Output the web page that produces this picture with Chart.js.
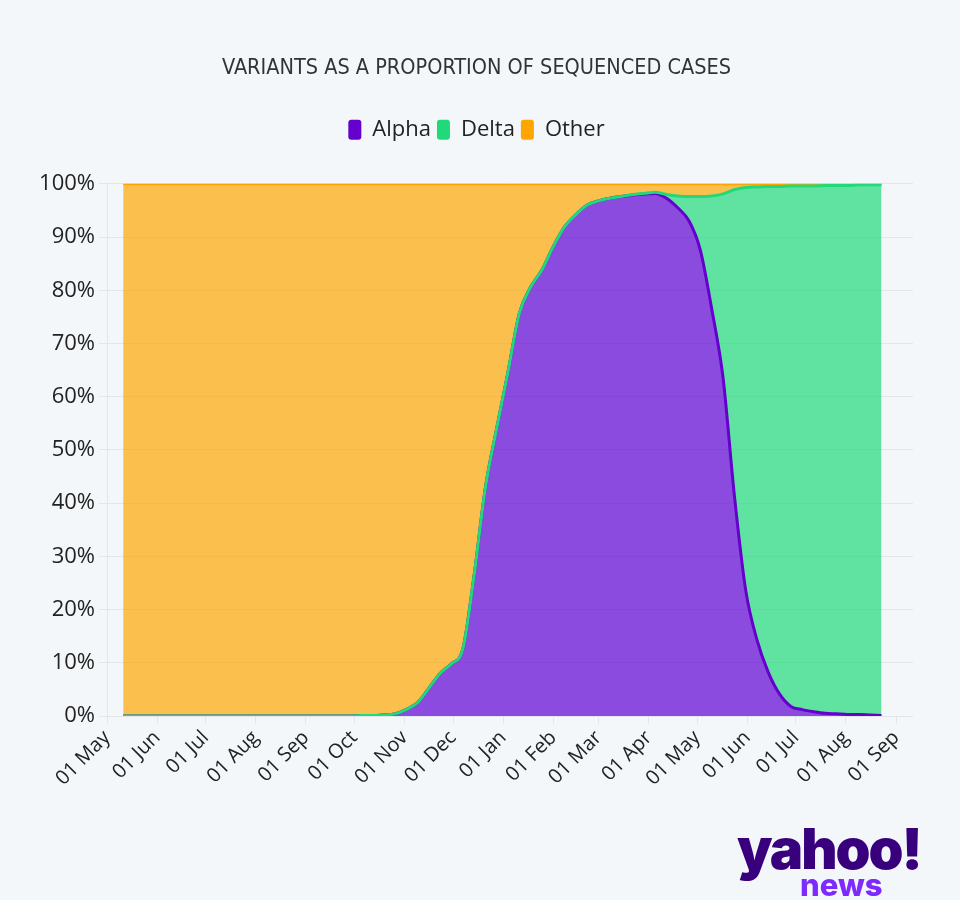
<!DOCTYPE html>
<html>
<head>
<meta charset="utf-8">
<script src="https://cdn.jsdelivr.net/npm/chart.js@4.4.1/dist/chart.umd.min.js"></script>
<style>
  html, body { margin: 0; padding: 0; background: #F3F7FA; }
  #wrap { position: relative; width: 960px; height: 900px; }
  canvas { display: block; }
  #logo { position: absolute; left: 737px; top: 819px; width: 190px; font-family: Inter, 'Open Sans', sans-serif; }
  #logo .y { font-size: 56px; font-weight: 900; color: #39007D; letter-spacing: -2px; line-height: 60px; }
  #logo .n { font-size: 31px; font-weight: 800; color: #7D2AFF; line-height: 30px; margin-left: 63px; margin-top: -9px; }
</style>
</head>
<body>
<div id="wrap">
  <canvas id="c" width="960" height="900"></canvas>
  <div id="logo"><div class="y">yahoo!</div><div class="n">news</div></div>
</div>
<script>
// ---- Data (weekly) ----
const weekDates = [
  '2020-05-11','2020-05-18','2020-05-25','2020-06-01','2020-06-08','2020-06-15','2020-06-22','2020-06-29',
  '2020-07-06','2020-07-13','2020-07-20','2020-07-27','2020-08-03','2020-08-10','2020-08-17','2020-08-24',
  '2020-08-31','2020-09-07','2020-09-14','2020-09-21','2020-09-28','2020-10-05','2020-10-12','2020-10-19',
  '2020-10-26','2020-11-02','2020-11-09','2020-11-16','2020-11-23','2020-11-30','2020-12-07','2020-12-14',
  '2020-12-21','2020-12-28','2021-01-04','2021-01-11','2021-01-18','2021-01-25','2021-02-01','2021-02-08',
  '2021-02-15','2021-02-22','2021-03-01','2021-03-08','2021-03-15','2021-03-22','2021-03-29','2021-04-05',
  '2021-04-12','2021-04-19','2021-04-26','2021-05-03','2021-05-10','2021-05-17','2021-05-24','2021-05-31',
  '2021-06-07','2021-06-14','2021-06-21','2021-06-28','2021-07-05','2021-07-12','2021-07-19','2021-07-26',
  '2021-08-02','2021-08-09','2021-08-16','2021-08-23'
];
const alphaPct = [
  0,0,0,0,0,0,0,0,
  0,0,0,0,0,0,0,0,
  0,0,0,0,0,0.1,0.1,0.2,
  0.4,1.2,2.5,5.2,8.0,9.8,12.5,26.3,
  42.8,54,64.6,75.6,80.6,83.8,88.2,91.9,
  94.2,96.0,96.8,97.3,97.6,97.9,98.1,98.2,
  97.3,95.5,93.0,87.5,76.5,63.6,41.5,23.7,
  14.3,8.2,4.1,1.8,1.2,0.8,0.5,0.4,
  0.3,0.3,0.2,0.1
];
const deltaPct = [
  0,0,0,0,0,0,0,0,
  0,0,0,0,0,0,0,0,
  0,0,0,0,0,0,0,0,
  0,0,0,0,0,0,0,0,
  0,0,0,0,0,0,0,0,
  0,0,0,0,0,0.1,0.1,0.2,
  0.7,2.2,4.6,10.1,21.2,34.5,57.4,75.6,
  85.1,91.3,95.4,97.8,98.4,98.8,99.2,99.3,
  99.4,99.5,99.6,99.7
];
const otherPct = [
  100,100,100,100,100,100,100,100,
  100,100,100,100,100,100,100,100,
  100,100,100,100,100,99.9,99.9,99.8,
  99.6,98.8,97.5,94.8,92.0,90.2,87.5,73.7,
  57.2,46,35.4,24.4,19.4,16.2,11.8,8.1,
  5.8,4.0,3.2,2.7,2.4,2.0,1.8,1.6,
  2.0,2.3,2.4,2.4,2.3,1.9,1.1,0.7,
  0.6,0.5,0.5,0.4,0.4,0.4,0.3,0.3,
  0.3,0.2,0.2,0.2
];
const tickDates = [
  '2020-05-01','2020-06-01','2020-07-01','2020-08-01','2020-09-01','2020-10-01','2020-11-01','2020-12-01',
  '2021-01-01','2021-02-01','2021-03-01','2021-04-01','2021-05-01','2021-06-01','2021-07-01','2021-08-01','2021-09-01'
];
const tickLabels = [
  '01 May','01 Jun','01 Jul','01 Aug','01 Sep','01 Oct','01 Nov','01 Dec',
  '01 Jan','01 Feb','01 Mar','01 Apr','01 May','01 Jun','01 Jul','01 Aug','01 Sep'
];
const yTicks = [0,10,20,30,40,50,60,70,80,90,100];
const seriesNames = ['Alpha','Delta','Other'];
const titleText = 'VARIANTS AS A PROPORTION OF SEQUENCED CASES';

// ---- Styles ----
const lineColors = ['#6600CC','#21D97A','#FFA500'];
const fillColors = ['rgba(93,1,209,0.7)','rgba(33,218,121,0.7)','rgba(254,166,4,0.7)'];
const gridColor = '#E3E6EA';
const textColor = '#222222';

// ---- Build table ----
const DAY = 86400000;
const ORIGIN = Date.UTC(2020, 4, 1);
const toDay = s => (Date.parse(s + 'T00:00:00Z') - ORIGIN) / DAY;
const xDays = weekDates.map(toDay);
const tickDays = tickDates.map(toDay);

const cumAlpha = alphaPct.map(v => v);
const cumDelta = alphaPct.map((v, i) => v + deltaPct[i]);
const cumOther = alphaPct.map((v, i) => v + deltaPct[i] + otherPct[i]);
const pts = arr => arr.map((v, i) => ({ x: xDays[i], y: v }));

Chart.defaults.font.family = "'Open Sans', 'Noto Sans', sans-serif";
Chart.defaults.color = textColor;

const legendMargin = {
  id: 'legendMargin',
  beforeInit(chart) {
    const orig = chart.legend.fit;
    chart.legend.fit = function () {
      orig.bind(chart.legend)();
      this.height += 33;
    };
  }
};

new Chart(document.getElementById('c'), {
  type: 'line',
  data: {
    datasets: [
      { label: seriesNames[0], data: pts(cumAlpha), borderColor: lineColors[0], backgroundColor: fillColors[0], fill: 'origin', order: 1 },
      { label: seriesNames[1], data: pts(cumDelta), borderColor: lineColors[1], backgroundColor: fillColors[1], fill: '-1', order: 0 },
      { label: seriesNames[2], data: pts(cumOther), borderColor: lineColors[2], backgroundColor: fillColors[2], fill: '-1', order: 2 }
    ]
  },
  options: {
    responsive: false,
    devicePixelRatio: 1,
    animation: false,
    layout: { padding: { left: 40, right: 47, top: 0, bottom: 0 } },
    elements: {
      line: { borderWidth: 3, cubicInterpolationMode: 'monotone' },
      point: { radius: 0, hoverRadius: 0 }
    },
    plugins: {
      filler: { drawTime: 'beforeDatasetsDraw' },
      tooltip: { enabled: false },
      title: {
        display: true,
        text: titleText,
        color: '#333333',
        font: { family: "'Liberation Sans Narrow', 'DejaVu Sans Condensed', sans-serif", size: 21.5, weight: 'normal' },
        padding: { top: 56, bottom: 31 }
      },
      legend: {
        display: true,
        position: 'top',
        labels: {
          font: { size: 22 },
          color: textColor,
          boxWidth: 13,
          boxHeight: 20,
          padding: 6,
          useBorderRadius: true,
          borderRadius: 3,
          sort: (a, b) => a.datasetIndex - b.datasetIndex,
          generateLabels(chart) {
            const items = Chart.defaults.plugins.legend.labels.generateLabels(chart);
            items.forEach(it => {
              it.fillStyle = lineColors[it.datasetIndex];
              it.strokeStyle = lineColors[it.datasetIndex];
              it.lineWidth = 0;
            });
            return items;
          }
        }
      }
    },
    scales: {
      x: {
        type: 'linear',
        min: 0,
        max: 498.5,
        afterBuildTicks: s => { s.ticks = tickDays.map(v => ({ value: v })); },
        afterFit: s => { s.height = 184; },
        ticks: {
          autoSkip: false,
          minRotation: 45,
          maxRotation: 45,
          font: { size: 20 },
          color: textColor,
          padding: 2,
          callback: v => { const i = tickDays.indexOf(v); return i >= 0 ? tickLabels[i] : ''; }
        },
        grid: { drawOnChartArea: false, drawTicks: true, tickLength: 8, color: gridColor },
        border: { display: false }
      },
      y: {
        min: 0,
        max: 100,
        afterBuildTicks: s => { s.ticks = yTicks.map(v => ({ value: v })); },
        afterFit: s => { s.width = 67; },
        ticks: {
          font: { size: 22 },
          color: textColor,
          padding: 4,
          callback: v => v + '%'
        },
        grid: { color: gridColor, tickLength: 8, drawTicks: true },
        border: { display: true, color: gridColor }
      }
    }
  },
  plugins: [legendMargin]
});
</script>
</body>
</html>
